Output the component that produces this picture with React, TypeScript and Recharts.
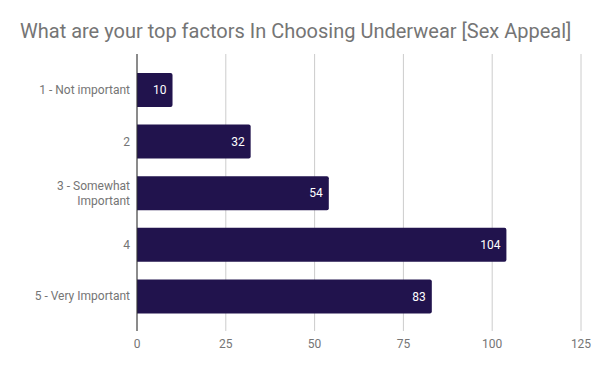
import React from 'react';
import { BarChart, Bar, XAxis, YAxis, CartesianGrid, LabelList } from 'recharts';

const categories = ['1 - Not important', '2', '3 - Somewhat Important', '4', '5 - Very Important'];
const counts = [10, 32, 54, 104, 83];
const xTicks = [0, 25, 50, 75, 100, 125];

const data = categories.map((name, i) => ({ name, count: counts[i] }));

const wrapLabel = (text: string, max = 18) => {
  const words = text.split(' ');
  const lines: string[] = [];
  let cur = '';
  words.forEach(w => {
    const next = cur ? cur + ' ' + w : w;
    if (next.length > max && cur) {
      lines.push(cur);
      cur = w;
    } else {
      cur = next;
    }
  });
  if (cur) lines.push(cur);
  return lines;
};

const CategoryTick = (props: any) => {
  const { x, y, payload } = props;
  const lines = wrapLabel(String(payload.value));
  const lh = 15;
  const start = -((lines.length - 1) * lh) / 2;
  return (
    <text x={x + 1} y={y} textAnchor="end" fill="#757575" fontSize={12} fontFamily="Roboto">
      {lines.map((l, i) => (
        <tspan key={i} x={x + 1} y={y + start + i * lh} dy="0.355em">{l}</tspan>
      ))}
    </text>
  );
};

export default function App() {
  return (
    <div style={{ position: 'absolute', left: 0, top: 0, width: 600, height: 371, background: '#fff', fontFamily: 'Roboto' }}>
      <div style={{ position: 'absolute', left: 20, top: 19, fontSize: 20, color: '#757575', whiteSpace: 'nowrap' }}>
        What are your top factors In Choosing Underwear [Sex Appeal]
      </div>
      <BarChart
        width={600}
        height={371}
        data={data}
        layout="vertical"
        margin={{ top: 54, right: 19, left: 0, bottom: 0 }}
        style={{ fontFamily: 'Roboto' }}
      >
        <CartesianGrid horizontal={false} stroke="#cccccc" />
        <XAxis
          type="number"
          domain={[0, 125]}
          ticks={xTicks}
          height={40}
          axisLine={false}
          tickLine={false}
          tick={{ fill: '#757575', fontSize: 12 }}
        />
        <YAxis
          type="category"
          dataKey="name"
          width={137}
          padding={{ top: 10, bottom: 9 }}
          axisLine={{ stroke: '#333333' }}
          tickLine={false}
          tick={<CategoryTick />}
        />
        <Bar dataKey="count" fill="#21134d" barSize={34} radius={[0, 2, 2, 0]} isAnimationActive={false}>
          <LabelList dataKey="count" position="insideRight" offset={6} fill="#ffffff" fontSize={12} />
        </Bar>
      </BarChart>
    </div>
  );
}
